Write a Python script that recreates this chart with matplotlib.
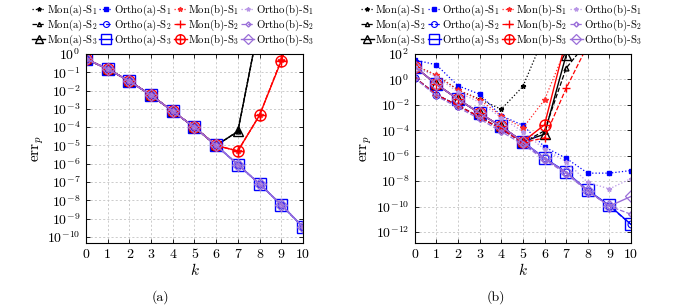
import numpy as np
import matplotlib.pyplot as plt
from matplotlib.path import Path
from matplotlib.ticker import FixedLocator, FuncFormatter, NullLocator

plt.rcParams['font.family'] = 'cmr10'
plt.rcParams['mathtext.fontset'] = 'cm'
plt.rcParams['axes.unicode_minus'] = False

k = list(range(11))

# ---- panel (a) ----
a_mon_a_s1 = [5.4e-1, 1.5e-1, 3.3e-2, 5.6e-3, 7.4e-4, 1.0e-4, 1.0e-5, 5.9e-5, 6.3e1, 1e5, 1e8]
a_mon_a_s2 = [5.4e-1, 1.5e-1, 3.3e-2, 5.6e-3, 7.4e-4, 1.0e-4, 1.0e-5, 5.9e-5, 6.3e1, 1e5, 1e8]
a_mon_a_s3 = [5.4e-1, 1.5e-1, 3.3e-2, 5.6e-3, 7.4e-4, 1.0e-4, 1.0e-5, 5.9e-5, 6.3e1, 1e5, 1e8]
a_ortho_a_s1 = [5.4e-1, 1.5e-1, 3.3e-2, 5.6e-3, 7.4e-4, 1.0e-4, 1.0e-5, 9.1e-7, 7.9e-8, 5.8e-9, 3.5e-10]
a_ortho_a_s2 = [5.4e-1, 1.5e-1, 3.3e-2, 5.6e-3, 7.4e-4, 1.0e-4, 1.0e-5, 9.1e-7, 7.9e-8, 5.8e-9, 3.5e-10]
a_ortho_a_s3 = [5.4e-1, 1.5e-1, 3.3e-2, 5.6e-3, 7.4e-4, 1.0e-4, 1.0e-5, 9.1e-7, 7.9e-8, 5.8e-9, 3.5e-10]
a_mon_b_s1 = [5.4e-1, 1.5e-1, 3.3e-2, 5.6e-3, 7.4e-4, 1.0e-4, 1.0e-5, 5.0e-6, 4.5e-4, 4.6e-1, 1e3]
a_mon_b_s2 = [5.4e-1, 1.5e-1, 3.3e-2, 5.6e-3, 7.4e-4, 1.0e-4, 1.0e-5, 5.0e-6, 4.5e-4, 4.8e-1, 1e3]
a_mon_b_s3 = [5.4e-1, 1.5e-1, 3.3e-2, 5.6e-3, 7.4e-4, 1.0e-4, 1.0e-5, 5.0e-6, 4.5e-4, 4.2e-1, 1e3]
a_ortho_b_s1 = [5.4e-1, 1.5e-1, 3.3e-2, 5.6e-3, 7.4e-4, 1.0e-4, 1.0e-5, 9.1e-7, 7.9e-8, 5.8e-9, 3.5e-10]
a_ortho_b_s2 = [5.4e-1, 1.5e-1, 3.3e-2, 5.6e-3, 7.4e-4, 1.0e-4, 1.0e-5, 9.1e-7, 7.9e-8, 5.8e-9, 3.5e-10]
a_ortho_b_s3 = [5.4e-1, 1.5e-1, 3.3e-2, 5.6e-3, 7.4e-4, 1.0e-4, 1.0e-5, 9.1e-7, 7.9e-8, 5.8e-9, 3.5e-10]

# ---- panel (b) ----
b_mon_a_s1 = [12.6, 2.2, 1.5e-1, 2.8e-2, 4.5e-3, 2.8e-1, 3e3, 1e7, 1e10, 1e13, 1e16]
b_mon_a_s2 = [1.4, 6.3e-2, 8.9e-3, 1.1e-3, 1.26e-4, 1.1e-5, 9.1e-5, 7.6, 1e3, 1e7, 1e10]
b_mon_a_s3 = [10, 4.2e-1, 2.8e-2, 2.2e-3, 2.0e-4, 1.26e-5, 5.0e-5, 83, 1e8, 1e12, 1e16]
b_ortho_a_s1 = [35, 14, 3.2e-1, 6.9e-2, 1.4e-3, 2.5e-4, 5.0e-6, 6.3e-7, 4.3e-8, 4.3e-8, 6.9e-8]
b_ortho_a_s2 = [1.4, 6.3e-2, 8.9e-3, 1.1e-3, 1.26e-4, 1.1e-5, 6.3e-7, 5.0e-8, 1.8e-9, 1.1e-10, 4.0e-12]
b_ortho_a_s3 = [10, 4.2e-1, 2.8e-2, 2.2e-3, 2.0e-4, 1.26e-5, 6.6e-7, 5.2e-8, 1.9e-9, 1.26e-10, 4.0e-12]
b_mon_b_s1 = [12.6, 2.2, 1.5e-1, 2.5e-2, 1.4e-3, 1.5e-4, 2.5e-2, 3.2e2, 1e6, 1e9, 1e12]
b_mon_b_s2 = [1.4, 6.3e-2, 8.9e-3, 1.1e-3, 1.26e-4, 1.1e-5, 2.5e-5, 2.0e-1, 5e2, 1e6, 1e9]
b_mon_b_s3 = [10, 4.2e-1, 2.8e-2, 2.2e-3, 2.0e-4, 1.26e-5, 2.7e-4, 1.3e3, 1e8, 1e12, 1e16]
b_ortho_b_s1 = [10, 1.6, 1.0e-1, 1.6e-2, 1.0e-3, 7.9e-5, 3.2e-6, 3.5e-7, 7.9e-9, 2.5e-9, 1.6e-8]
b_ortho_b_s2 = [1.3, 5.0e-2, 6.3e-3, 7.9e-4, 7.9e-5, 7.9e-6, 5.0e-7, 4.0e-8, 1.6e-9, 1.1e-10, 2.5e-11]
b_ortho_b_s3 = [10, 4.2e-1, 2.8e-2, 2.2e-3, 2.0e-4, 1.26e-5, 6.3e-7, 5.0e-8, 1.8e-9, 1.1e-10, 6.3e-10]

labels = ['Mon(a)-S$_1$', 'Mon(a)-S$_2$', 'Mon(a)-S$_3$',
          'Ortho(a)-S$_1$', 'Ortho(a)-S$_2$', 'Ortho(a)-S$_3$',
          'Mon(b)-S$_1$', 'Mon(b)-S$_2$', 'Mon(b)-S$_3$',
          'Ortho(b)-S$_1$', 'Ortho(b)-S$_2$', 'Ortho(b)-S$_3$']

# circle with a cross, like pgfplots "oplus"
oplus = Path.make_compound_path(
    Path.unit_circle(),
    Path([[-1, 0], [1, 0], [0, -1], [0, 1]],
         [Path.MOVETO, Path.LINETO, Path.MOVETO, Path.LINETO]))

purple = '#9a6ed8'
styles = [
    dict(color='black', ls=':', lw=0.9, marker='*', ms=3.5),
    dict(color='black', ls='--', lw=0.9, marker='^', ms=3.5, mfc='none'),
    dict(color='black', ls='-', lw=1.0, marker='^', ms=7, mfc='none', mew=1.0),
    dict(color='blue', ls=':', lw=0.9, marker='s', ms=3),
    dict(color='blue', ls='--', lw=0.9, marker='o', ms=5, mfc='none', mew=0.8),
    dict(color='blue', ls='-', lw=1.0, marker='s', ms=8, mfc='none', mew=1.0),
    dict(color='#ff2a2a', ls=':', lw=0.9, marker='*', ms=4),
    dict(color='red', ls='--', lw=0.9, marker='+', ms=6, mew=1.0),
    dict(color='red', ls='-', lw=1.0, marker=oplus, ms=8, mfc='none', mew=1.0),
    dict(color='#b896e6', ls=':', lw=0.9, marker='*', ms=3.5),
    dict(color=purple, ls='--', lw=0.9, marker='D', ms=3, mfc='none'),
    dict(color=purple, ls='-', lw=1.0, marker='D', ms=6, mfc='none', mew=0.9),
]

fig = plt.figure(figsize=(6.78, 3.08), dpi=100)
ax1 = fig.add_axes([0.1268, 0.211, 0.320, 0.6137])
ax2 = fig.add_axes([0.6117, 0.211, 0.319, 0.6137])

series_a = [a_mon_a_s1, a_mon_a_s2, a_mon_a_s3, a_ortho_a_s1, a_ortho_a_s2, a_ortho_a_s3,
            a_mon_b_s1, a_mon_b_s2, a_mon_b_s3, a_ortho_b_s1, a_ortho_b_s2, a_ortho_b_s3]
series_b = [b_mon_a_s1, b_mon_a_s2, b_mon_a_s3, b_ortho_a_s1, b_ortho_a_s2, b_ortho_a_s3,
            b_mon_b_s1, b_mon_b_s2, b_mon_b_s3, b_ortho_b_s1, b_ortho_b_s2, b_ortho_b_s3]

log_fmt = FuncFormatter(lambda v, p: r'$10^{%d}$' % round(np.log10(v)))

for ax, series, ylim, yt, cx, cap, lx in [
        (ax1, series_a, (10**-10.33, 1), [10.0**e for e in range(-10, 1)], 0.2552, '(a)', 0.236),
        (ax2, series_b, (10**-12.86, 100), [10.0**e for e in range(-12, 3, 2)], 0.7397, '(b)', 0.731)]:
    for y, lab, st in zip(series, labels, styles):
        ax.plot(k, y, label=lab, **st)
    ax.set_yscale('log')
    ax.set_xlim(0, 10)
    ax.set_ylim(*ylim)
    ax.set_xticks(k)
    ax.yaxis.set_major_locator(FixedLocator(yt))
    ax.yaxis.set_minor_locator(NullLocator())
    ax.yaxis.set_major_formatter(log_fmt)
    ax.grid(True, color='#c4c4c4', ls=(0, (2.5, 2.5)), lw=0.6)
    ax.tick_params(direction='in', length=3, width=0.6, labelsize=10, pad=4,
                   top=True, right=True)
    for sp in ax.spines.values():
        sp.set_linewidth(0.8)
    ax.set_xlabel('$k$', fontsize=11, labelpad=1)
    ax.set_ylabel(r'$\mathrm{err}_p$', fontsize=11, labelpad=1)
    ax.legend(ncol=4, loc='center', bbox_to_anchor=(cx, 0.918),
              bbox_transform=fig.transFigure, frameon=False, fontsize=7.8,
              handlelength=1.2, handletextpad=0.12, columnspacing=0.2,
              labelspacing=0.0, borderpad=0, markerscale=0.85)
    fig.text(lx, 0.035, cap, ha='center', va='center', fontsize=10)

fig.savefig('out.png', dpi=100)
